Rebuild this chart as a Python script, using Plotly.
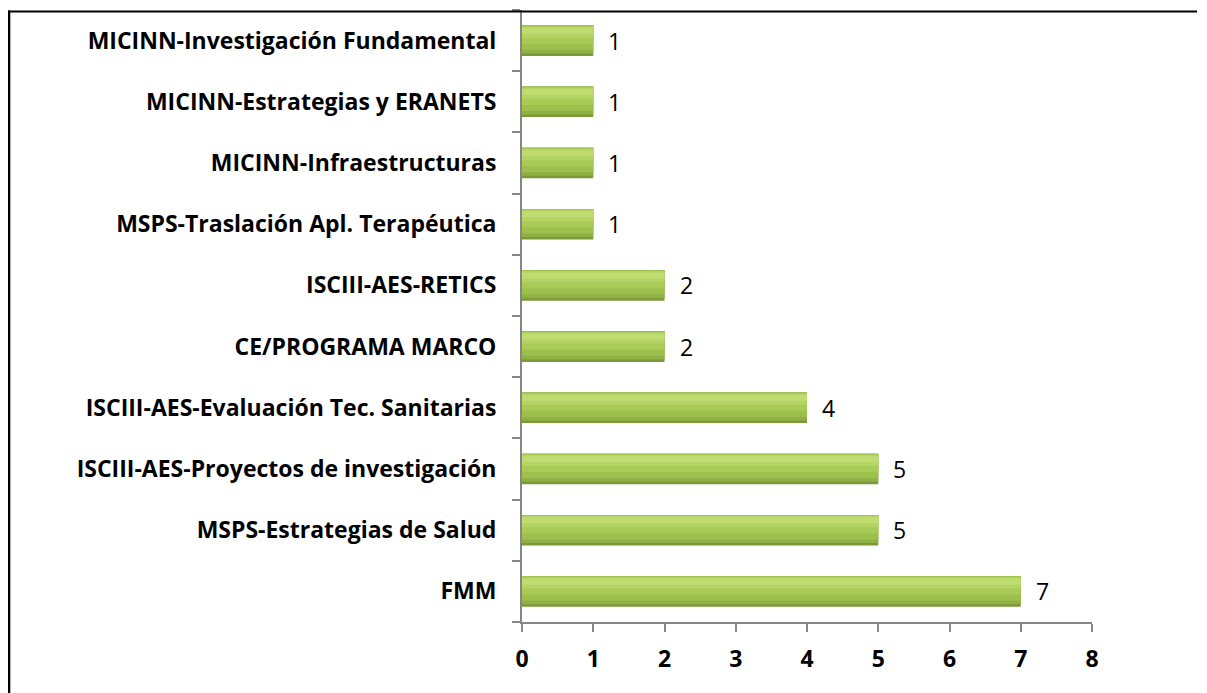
import plotly.graph_objects as go

categories = [
    "FMM",
    "MSPS-Estrategias de Salud",
    "ISCIII-AES-Proyectos de investigación",
    "ISCIII-AES-Evaluación Tec. Sanitarias",
    "CE/PROGRAMA MARCO",
    "ISCIII-AES-RETICS",
    "MSPS-Traslación Apl. Terapéutica",
    "MICINN-Infraestructuras",
    "MICINN-Estrategias y ERANETS",
    "MICINN-Investigación Fundamental",
]
values = [7, 5, 5, 4, 2, 2, 1, 1, 1, 1]
x_ticks = [0, 1, 2, 3, 4, 5, 6, 7, 8]

# the page body has an 8px margin, so work in figure pixels (page px - 8)
OFF = 8
W, H = 1207 - OFF, 693 - OFF
L, R, T, B = 522 - OFF, 1092 - OFF, 10 - OFF, 622 - OFF
pw, ph = R - L, B - T

fig = go.Figure()
# layered bars (bottom dark -> top light) to imitate the bevelled gradient
layers = [
    (-0.25, 0.50, "#7b9937"),
    (-0.21, 0.46, "#8fb045"),
    (-0.15, 0.40, "#9dbf4e"),
    (-0.05, 0.29, "#a8ca57"),
    (0.05, 0.18, "#b3d464"),
    (0.11, 0.10, "#bfdc71"),
]
for off, w, col in layers:
    fig.add_trace(go.Bar(y=categories, x=values, orientation="h", width=w, offset=off,
                         marker=dict(color=col, line=dict(width=0)),
                         hoverinfo="skip", showlegend=False))

for c, v in zip(categories, values):
    fig.add_annotation(x=v, y=c, text=str(v), showarrow=False, xanchor="left",
                       xshift=13, font=dict(family="Open Sans", size=23, color="#000"))

grey = "#868686"
fig.update_layout(
    width=W, height=H,
    margin=dict(l=L, r=W - R, t=T, b=H - B, pad=0),
    paper_bgcolor="white", plot_bgcolor="white",
    barmode="overlay",
    xaxis=dict(range=[0, 8], tickvals=x_ticks, showgrid=False, zeroline=False,
               showline=True, linecolor=grey, linewidth=2,
               ticks="outside", ticklen=8, tickcolor=grey, tickwidth=2,
               tickfont=dict(family="Open Sans", size=23, color="#000", weight="bold"),
               ticklabelstandoff=7),
    yaxis=dict(type="category", categoryorder="array", categoryarray=categories,
               range=[-0.5, 9.5], showgrid=False, zeroline=False,
               showline=True, linecolor=grey, linewidth=2,
               ticks="outside", ticklen=8, tickcolor=grey, tickwidth=2,
               tickson="boundaries",
               tickfont=dict(family="Open Sans", size=23, color="#000", weight="bold"),
               ticklabelstandoff=19),
)

def px2x(p):
    return (p - L) / pw

def px2y(p):
    return (B - p) / ph

shapes = [
    dict(type="line", xref="paper", yref="paper", x0=px2x(0.8), x1=px2x(0.8), y0=px2y(2.5), y1=px2y(H + 5),
         line=dict(color="#000", width=3)),
    dict(type="line", xref="paper", yref="paper", x0=px2x(0), x1=px2x(1189), y0=px2y(3.5), y1=px2y(3.5),
         line=dict(color="#000", width=2)),
    dict(type="line", xref="paper", yref="paper", x0=px2x(1191), x1=px2x(1200), y0=px2y(4), y1=px2y(4),
         line=dict(color="#000", width=3)),
]
fig.update_layout(shapes=shapes)

fig.write_html("out.html")
